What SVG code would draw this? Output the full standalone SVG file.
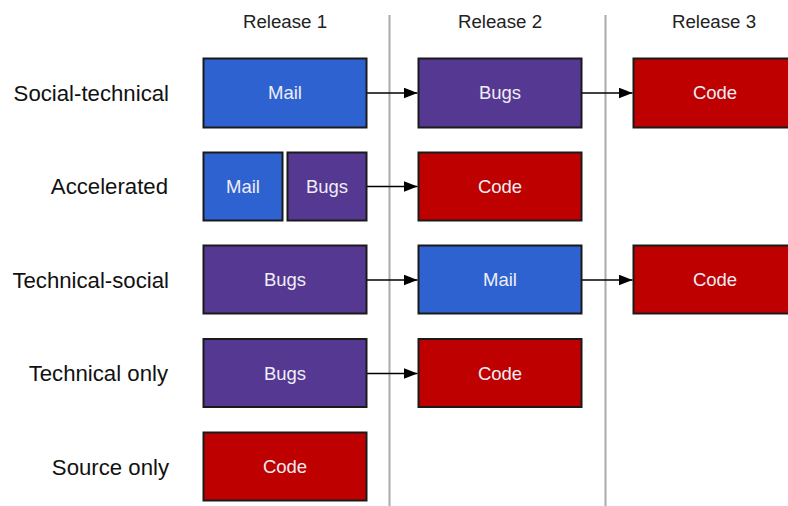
<svg xmlns="http://www.w3.org/2000/svg" width="788" height="506" viewBox="0 0 788 506">
<style>
.hdr{font-family:"Liberation Sans",Arial,sans-serif;font-size:18.7px;fill:#222;text-anchor:middle}
.row{font-family:"Liberation Sans",Arial,sans-serif;font-size:22.2px;fill:#111;text-anchor:end}
.lbl{font-family:"Liberation Sans",Arial,sans-serif;font-size:18.5px;fill:#eeeef4;text-anchor:middle}
.box{stroke:#1a1a1a;stroke-width:2}
.mail{fill:#2e62d1}
.bugs{fill:#553892}
.code{fill:#bf0000}
.div{stroke:#aaaaaa;stroke-width:2}
.con{stroke:#000;stroke-width:1.7;fill:none;marker-end:url(#ah)}
</style>
<defs>
<marker id="ah" markerWidth="14" markerHeight="11" refX="14" refY="5.5" orient="auto" markerUnits="userSpaceOnUse">
<path d="M0,0 L14,5.5 L0,11 Z" fill="#000"/>
</marker>
</defs>
<rect width="788" height="506" fill="#fff"/>
<g id="dividers">
<line class="div" x1="389.5" y1="15" x2="389.5" y2="506"/>
<line class="div" x1="605.5" y1="15" x2="605.5" y2="506"/>
</g>
<g id="headers">
<text class="hdr" x="285" y="28">Release 1</text>
<text class="hdr" x="500" y="28">Release 2</text>
<text class="hdr" x="714" y="28">Release 3</text>
</g>
<g id="row-labels">
<text class="row" x="169" y="100.5">Social-technical</text>
<text class="row" x="168" y="194">Accelerated</text>
<text class="row" x="169" y="287.5">Technical-social</text>
<text class="row" x="168" y="381">Technical only</text>
<text class="row" x="169" y="474.5">Source only</text>
</g>
<g id="connectors">
<line class="con" x1="367" y1="93" x2="417.5" y2="93"/>
<line class="con" x1="582" y1="93" x2="632.5" y2="93"/>
<line class="con" x1="367" y1="186.5" x2="417.5" y2="186.5"/>
<line class="con" x1="367" y1="280" x2="417.5" y2="280"/>
<line class="con" x1="582" y1="280" x2="632.5" y2="280"/>
<line class="con" x1="367" y1="373.5" x2="417.5" y2="373.5"/>
</g>
<g id="st-mail"><rect class="box mail" x="203.5" y="58.5" width="163" height="69"/><text class="lbl" x="285" y="99">Mail</text></g>
<g id="st-bugs"><rect class="box bugs" x="418.5" y="58.5" width="163" height="69"/><text class="lbl" x="500" y="99">Bugs</text></g>
<g id="st-code"><rect class="box code" x="633.5" y="58.5" width="163" height="69"/><text class="lbl" x="715" y="99">Code</text></g>
<g id="ac-mail"><rect class="box mail" x="203.5" y="152.5" width="79" height="68"/><text class="lbl" x="243" y="193">Mail</text></g>
<g id="ac-bugs"><rect class="box bugs" x="287.5" y="152.5" width="79" height="68"/><text class="lbl" x="327" y="193">Bugs</text></g>
<g id="ac-code"><rect class="box code" x="418.5" y="152.5" width="163" height="68"/><text class="lbl" x="500" y="193">Code</text></g>
<g id="ts-bugs"><rect class="box bugs" x="203.5" y="245.5" width="163" height="68"/><text class="lbl" x="285" y="286">Bugs</text></g>
<g id="ts-mail"><rect class="box mail" x="418.5" y="245.5" width="163" height="68"/><text class="lbl" x="500" y="286">Mail</text></g>
<g id="ts-code"><rect class="box code" x="633.5" y="245.5" width="163" height="68"/><text class="lbl" x="715" y="286">Code</text></g>
<g id="to-bugs"><rect class="box bugs" x="203.5" y="339" width="163" height="68"/><text class="lbl" x="285" y="380">Bugs</text></g>
<g id="to-code"><rect class="box code" x="418.5" y="339" width="163" height="68"/><text class="lbl" x="500" y="380">Code</text></g>
<g id="so-code"><rect class="box code" x="203.5" y="432.5" width="163" height="68"/><text class="lbl" x="285" y="473">Code</text></g>
</svg>
